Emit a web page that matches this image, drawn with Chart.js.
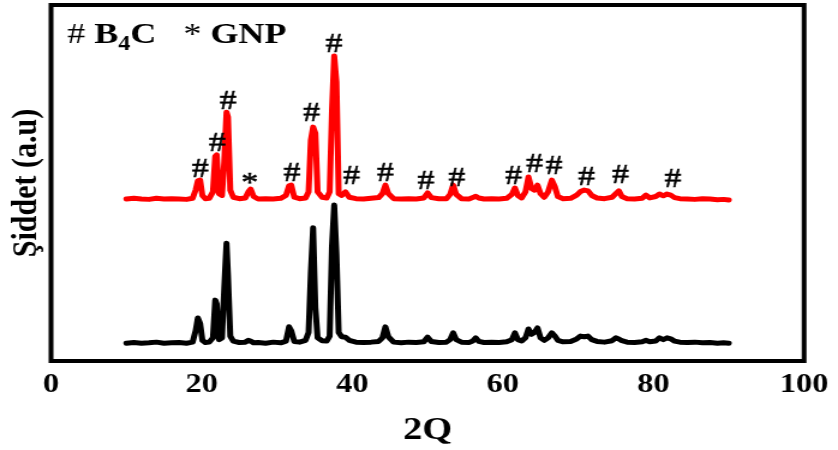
<!DOCTYPE html>
<html>
<head>
<meta charset="utf-8">
<title>XRD</title>
<script src="https://cdn.jsdelivr.net/npm/chart.js@4.4.0/dist/chart.umd.min.js"></script>
<style>
  html, body { margin: 0; padding: 0; background: #fff; }
</style>
</head>
<body>
<!-- drawn at 698 wide and stretched to 838 so the serif text comes out wide -->
<canvas id="xrd" width="698" height="450" style="width:838px;height:450px"></canvas>
<script>
// 2-theta positions shared by both patterns
const angles = [
  10, 11, 12, 13, 14, 15, 16, 17, 18, 18.8,
  19.2, 19.5, 19.8, 20.1, 20.5, 21.0, 21.5, 21.8, 22.0, 22.3,
  22.7, 23.0, 23.3, 23.5, 23.8, 24.2, 25.0, 25.8, 26.2, 26.5,
  26.9, 27.5, 28.5, 29.5, 30.5, 31.2, 31.6, 31.9, 32.3, 33.0,
  33.8, 34.2, 34.5, 34.8, 35.1, 35.4, 36.0, 36.6, 37.0, 37.3,
  37.6, 37.9, 38.2, 38.6, 39.1, 39.6, 40.5, 41.5, 42.5, 43.5,
  44.0, 44.4, 44.8, 45.5, 46.5, 47.5, 48.5, 49.5, 50.0, 50.5,
  51.5, 52.5, 53.0, 53.4, 53.8, 54.5, 55.5, 56.0, 56.4, 56.8,
  57.5, 58.5, 59.5, 60.5, 61.2, 61.6, 62.0, 62.5, 63.0, 63.4,
  63.8, 64.2, 64.6, 65.0, 65.5, 66.0, 66.5, 66.9, 67.3, 68.0,
  69.0, 69.8, 70.3, 70.8, 71.3, 71.8, 72.5, 73.5, 74.5, 75.0,
  75.4, 75.8, 76.5, 77.5, 78.5, 79.0, 79.5, 80.3, 80.8, 81.3,
  81.8, 82.3, 82.8, 83.5, 84.5, 85.5, 86.5, 87.5, 88.5, 89.3,
  90.0
];

// lower (black) pattern
const b4cCounts = [
  5.0, 5.2, 5.0, 5.1, 5.3, 5.0, 5.1, 5.2, 5.0, 5.3,
  8.5, 12.1, 10.5, 5.8, 5.2, 5.3, 6.5, 17.1, 16.0, 6.0,
  6.5, 20.5, 33.1, 24.0, 7.0, 5.6, 5.2, 5.3, 5.8, 5.6,
  5.1, 5.2, 5.0, 5.3, 5.1, 5.6, 9.6, 8.5, 5.5, 5.3,
  5.8, 8.0, 24.7, 37.4, 15.0, 6.5, 5.7, 5.6, 7.0, 32.0,
  43.8, 30.0, 8.0, 6.8, 6.7, 5.8, 5.3, 5.2, 5.3, 5.5,
  6.5, 9.6, 6.8, 5.3, 5.1, 5.3, 5.2, 5.4, 6.7, 5.5,
  5.2, 5.3, 6.0, 7.9, 6.0, 5.3, 5.2, 5.6, 6.5, 5.5,
  5.2, 5.3, 5.2, 5.4, 6.0, 7.9, 6.0, 5.6, 6.5, 9.0,
  7.5, 8.0, 9.3, 6.5, 5.8, 6.5, 7.9, 7.0, 5.8, 5.4,
  5.5, 6.2, 7.0, 6.8, 7.0, 6.0, 5.5, 5.3, 5.7, 6.5,
  6.2, 5.7, 5.3, 5.2, 5.4, 5.8, 5.4, 5.6, 6.5, 6.0,
  6.5, 6.2, 5.6, 5.3, 5.2, 5.3, 5.1, 5.2, 5.0, 5.1,
  5.0
];

// upper (red) pattern, shifted up by RED_OFFSET when plotted
const b4cGnpCounts = [
  5.5, 5.7, 5.5, 5.4, 5.7, 5.5, 5.6, 5.5, 5.4, 5.7,
  8.0, 10.6, 10.8, 6.5, 5.6, 5.7, 7.5, 17.5, 17.9, 7.0,
  6.5, 16.0, 29.9, 28.5, 8.0, 6.0, 5.6, 5.8, 7.5, 8.3,
  6.2, 5.5, 5.6, 5.5, 5.7, 6.5, 9.2, 9.4, 6.0, 5.6,
  5.8, 7.5, 22.0, 25.7, 24.0, 7.5, 6.0, 5.8, 7.5, 30.0,
  45.7, 38.4, 7.0, 6.5, 7.5, 6.0, 5.6, 5.5, 5.7, 5.9,
  7.0, 9.4, 7.0, 5.6, 5.5, 5.6, 5.5, 5.8, 7.2, 5.9,
  5.6, 5.6, 6.8, 9.4, 6.8, 5.6, 5.5, 5.9, 6.3, 5.8,
  5.5, 5.6, 5.5, 5.7, 6.8, 8.6, 6.5, 5.8, 7.5, 11.7,
  8.5, 8.0, 9.4, 7.0, 6.0, 7.5, 10.8, 9.0, 6.2, 5.6,
  5.7, 6.6, 7.6, 8.0, 7.8, 6.5, 5.8, 5.6, 6.0, 7.0,
  7.8, 6.2, 5.6, 5.5, 5.7, 6.6, 5.8, 6.2, 6.9, 6.4,
  6.9, 6.6, 5.9, 5.6, 5.5, 5.4, 5.6, 5.5, 5.3, 5.4,
  5.2
];
const RED_OFFSET = 40;

// phase markers over the red pattern: position, height (red units), symbol
const markAngles = [19.8, 22.1, 23.5, 26.4, 32.0, 34.6, 37.6, 39.9, 44.4, 49.8, 53.9, 61.4, 64.2, 66.8, 71.1, 75.6, 82.6];
const markLevels = [14.2, 21.5, 33.3, 11.4, 13.1, 29.9, 49.3, 12.2, 13.1, 10.8, 11.7, 12.2, 15.6, 15.1, 12.0, 12.5, 11.4];
const markSymbols = ['#', '#', '#', '*', '#', '#', '#', '#', '#', '#', '#', '#', '#', '#', '#', '#', '#'];

const xTicks = [0, 20, 40, 60, 80, 100];

const SERIF = "'Liberation Serif', 'Times New Roman', serif";

const toPoints = (vals, shift) => angles.map((a, i) => ({ x: a, y: vals[i] + shift }));

// box around the plot area
const framePlugin = {
  id: 'frame',
  afterDraw(chart) {
    const { ctx, chartArea: a } = chart;
    ctx.save();
    ctx.strokeStyle = '#000';
    ctx.lineWidth = 4;
    ctx.strokeRect(a.left, a.top, a.right - a.left, a.bottom - a.top);
    ctx.restore();
  }
};

// # / * peak markers and the key in the corner
const markerPlugin = {
  id: 'markers',
  afterDatasetsDraw(chart) {
    const { ctx, scales: { x, y } } = chart;
    ctx.save();
    ctx.fillStyle = '#000';
    ctx.strokeStyle = '#000';
    ctx.lineWidth = 0.6;
    ctx.textAlign = 'center';
    ctx.textBaseline = 'alphabetic';
    ctx.font = `28px ${SERIF}`;
    markAngles.forEach((a, i) => {
      const px = x.getPixelForValue(a);
      const py = y.getPixelForValue(markLevels[i] + RED_OFFSET);
      const m = ctx.measureText(markSymbols[i]);
      const by = py + (m.actualBoundingBoxAscent - m.actualBoundingBoxDescent) / 2;
      ctx.fillText(markSymbols[i], px, by);
      ctx.strokeText(markSymbols[i], px, by);
    });

    // key: "# B4C   * GNP"
    ctx.textAlign = 'left';
    let cx = 56;
    const base = 43;
    const put = (txt, font, dy) => {
      ctx.font = font;
      ctx.fillText(txt, cx, base + (dy || 0));
      cx += ctx.measureText(txt).width;
    };
    put('# ', `30px ${SERIF}`);
    put('B', `bold 30px ${SERIF}`);
    put('4', `bold 20px ${SERIF}`, 7);
    put('C', `bold 30px ${SERIF}`);
    put('   ', `30px ${SERIF}`);
    put('* ', `30px ${SERIF}`);
    put('GNP', `bold 30px ${SERIF}`);
    ctx.restore();
  }
};

new Chart(document.getElementById('xrd'), {
  type: 'line',
  data: {
    datasets: [
      {
        label: 'B4C + GNP',
        data: toPoints(b4cGnpCounts, RED_OFFSET),
        borderColor: '#ff0000',
        borderWidth: 5,
        borderJoinStyle: 'round',
        borderCapStyle: 'round',
        pointRadius: 0,
        tension: 0
      },
      {
        label: 'B4C',
        data: toPoints(b4cCounts, 0),
        borderColor: '#000000',
        borderWidth: 5,
        borderJoinStyle: 'round',
        borderCapStyle: 'round',
        pointRadius: 0,
        tension: 0
      }
    ]
  },
  options: {
    responsive: false,
    devicePixelRatio: 1,
    animation: false,
    events: [],
    layout: { padding: { left: 0, right: 25, top: 5, bottom: 0 } },
    plugins: { legend: { display: false }, tooltip: { enabled: false } },
    scales: {
      x: {
        type: 'linear',
        min: 0,
        max: 100,
        afterBuildTicks(scale) { scale.ticks = xTicks.map(v => ({ value: v })); },
        afterFit(scale) { scale.height = 89; },
        grid: { display: false, drawTicks: false },
        border: { display: false },
        ticks: {
          color: '#000',
          padding: 8,
          maxRotation: 0,
          font: { family: SERIF, size: 27, weight: 'bold' }
        },
        title: {
          display: true,
          text: '2Q',
          color: '#000',
          padding: { top: 0, bottom: 0 },
          font: { family: SERIF, size: 32, weight: 'bold' }
        }
      },
      y: {
        min: 0,
        max: 100,
        afterFit(scale) { scale.width = 42.5; },
        grid: { display: false, drawTicks: false },
        border: { display: false },
        ticks: { display: false },
        title: {
          display: true,
          text: 'Şiddet (a.u)',
          color: '#000',
          padding: { top: 4, bottom: 0 },
          font: { family: SERIF, size: 30, weight: 'bold' }
        }
      }
    }
  },
  plugins: [framePlugin, markerPlugin]
});
</script>
</body>
</html>
